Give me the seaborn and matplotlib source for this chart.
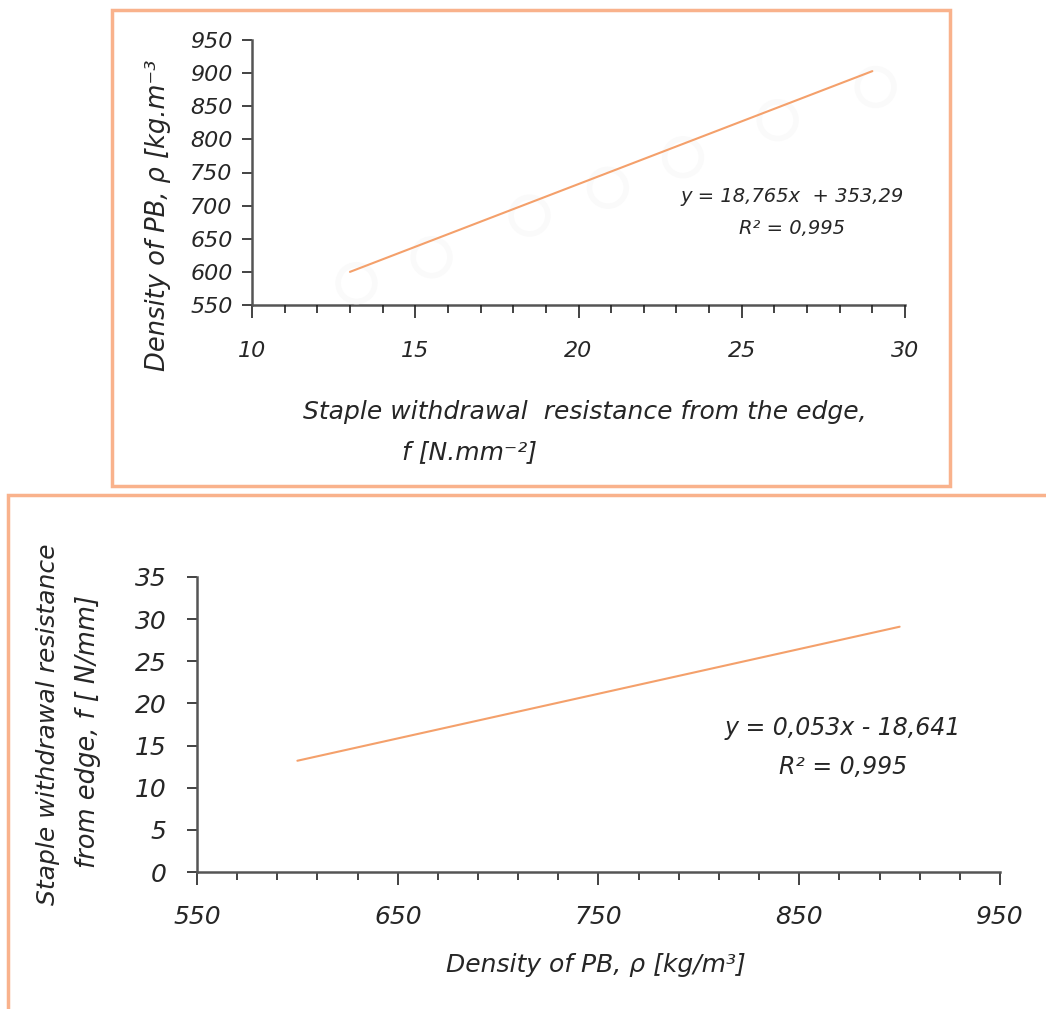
import matplotlib
matplotlib.use("Agg")
import matplotlib.pyplot as plt
import seaborn as sns
from matplotlib.patches import Rectangle

# top chart: density vs staple withdrawal resistance
top_points_f = [13.2, 15.5, 18.5, 20.9, 23.2, 26.1, 29.1]
top_points_rho = [583, 622, 685, 727, 773, 829, 879]
top_trend_f = [13, 29]
top_trend_rho = [600, 903]
top_xticks = [10, 15, 20, 25, 30]
top_yticks = [550, 600, 650, 700, 750, 800, 850, 900, 950]

# bottom chart: staple withdrawal resistance vs density
bot_trend_rho = [600, 900]
bot_trend_f = [13.2, 29.1]
bot_xticks = [550, 650, 750, 850, 950]
bot_yticks = [0, 5, 10, 15, 20, 25, 30, 35]

W, H = 1046, 1009
LINE = "#f4a06b"
FRAME = "#f9b28c"
AXC = "#555555"
FONT = ["DejaVu Sans"]

sns.set_style("white")
plt.rcParams["font.family"] = FONT

fig = plt.figure(figsize=(W / 100, H / 100), dpi=100)


def fx(px):
    return px / W


def fy(py):
    return 1 - py / H


# orange frames around each chart
fig.patches.append(Rectangle((fx(112), fy(486)), fx(950) - fx(112), fy(10) - fy(486),
                             transform=fig.transFigure, fill=False, edgecolor=FRAME, lw=2.5))
fig.patches.append(Rectangle((fx(8), fy(1040)), fx(1060) - fx(8), fy(495) - fy(1040),
                             transform=fig.transFigure, fill=False, edgecolor=FRAME, lw=2.5))


def style_axis(ax, xlim, ylim, xticks, yticks, xminor, fsize, xpad, ypad):
    ax.set_xlim(*xlim)
    ax.set_ylim(*ylim)
    ax.set_xticks(xticks)
    ax.set_yticks(yticks)
    ax.set_xticks(xminor, minor=True)
    for s in ["top", "right"]:
        ax.spines[s].set_visible(False)
    for s in ["left", "bottom"]:
        ax.spines[s].set_color(AXC)
        ax.spines[s].set_linewidth(1.8)
    ax.tick_params(axis="both", which="both", direction="out", color="#222222",
                   width=1.2, bottom=True, left=True)
    ax.tick_params(axis="x", which="major", length=9, pad=xpad)
    ax.tick_params(axis="x", which="minor", length=6)
    ax.tick_params(axis="y", which="major", length=7, pad=ypad)
    ax.set_xticklabels([str(v) for v in xticks], fontsize=fsize, style="italic")
    ax.set_yticklabels([str(v) for v in yticks], fontsize=fsize, style="italic")
    ax.set_xlabel("")
    ax.set_ylabel("")
    ax.patch.set_alpha(0)


# ---- top chart ----
ax1 = fig.add_axes([fx(252), fy(305), fx(905) - fx(252), fy(40) - fy(305)])
sns.scatterplot(x=top_points_f, y=top_points_rho, ax=ax1, s=700, marker="o",
                facecolor="none", edgecolor="#fafafa", linewidth=4, zorder=1)
sns.lineplot(x=top_trend_f, y=top_trend_rho, ax=ax1, color=LINE, lw=1.5, zorder=3)
style_axis(ax1, (10, 30), (550, 950), top_xticks, top_yticks, range(10, 31), 16, 17, 7)
ax1.spines["bottom"].set_zorder(0)

fig.text(fx(792), fy(197), "y = 18,765x  + 353,29", ha="center", va="center",
         fontsize=14, style="italic")
fig.text(fx(792), fy(228), "R² = 0,995", ha="center", va="center",
         fontsize=14, style="italic")
fig.text(fx(585), fy(412), "Staple withdrawal  resistance from the edge,", ha="center",
         va="center", fontsize=18, style="italic")
fig.text(fx(470), fy(452), "f [N.mm⁻²]", ha="center", va="center",
         fontsize=18, style="italic")
fig.text(fx(158), fy(215), "Density of PB, ρ [kg.m⁻³", ha="center", va="center",
         rotation=90, fontsize=18.5, style="italic")

# ---- bottom chart ----
ax2 = fig.add_axes([fx(197), fy(872), fx(1000) - fx(197), fy(577) - fy(872)])
sns.lineplot(x=bot_trend_rho, y=bot_trend_f, ax=ax2, color=LINE, lw=1.5)
style_axis(ax2, (550, 950), (0, 35), bot_xticks, bot_yticks, range(550, 951, 20), 18, 15, 15)

fig.text(fx(843), fy(728), "y = 0,053x - 18,641", ha="center", va="center",
         fontsize=17, style="italic")
fig.text(fx(843), fy(767), "R² = 0,995", ha="center", va="center",
         fontsize=17, style="italic")
fig.text(fx(596), fy(965), "Density of PB, ρ [kg/m³]", ha="center", va="center",
         fontsize=18, style="italic")
fig.text(fx(48), fy(724), "Staple withdrawal resistance", ha="center", va="center",
         rotation=90, fontsize=18, style="italic")
fig.text(fx(88), fy(731), "from edge, f [ N/mm]", ha="center", va="center",
         rotation=90, fontsize=18.5, style="italic")

fig.savefig("out.png", dpi=100)
